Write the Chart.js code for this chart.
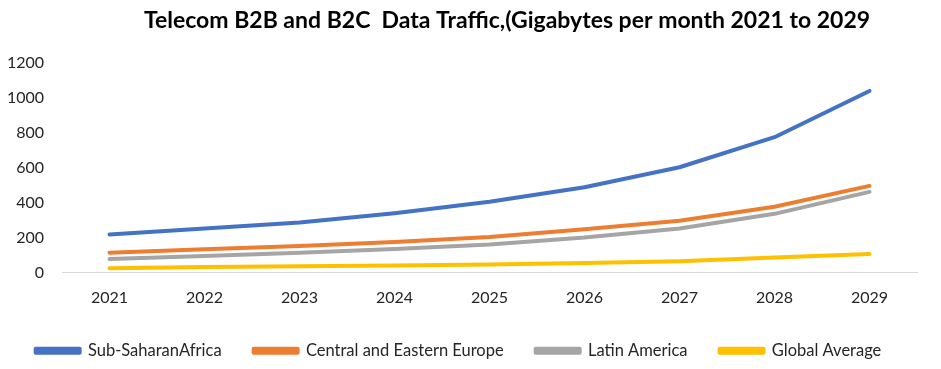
<!DOCTYPE html>
<html>
<head>
<meta charset="utf-8">
<script src="https://cdn.jsdelivr.net/npm/chart.js@4.4.0/dist/chart.umd.min.js"></script>
<style>
  html, body { margin: 0; padding: 0; background: #fff; }
  #wrap { width: 941px; height: 369px; }
</style>
</head>
<body>
<div id="wrap"><canvas id="trafficChart"></canvas></div>
<script>
const years = ['2021', '2022', '2023', '2024', '2025', '2026', '2027', '2028', '2029'];
const subSaharanAfrica = [218, 252, 286, 340, 405, 488, 603, 775, 1040];
const centralEasternEurope = [113, 133, 152, 175, 204, 248, 296, 377, 496];
const latinAmerica = [77, 94, 113, 135, 161, 200, 252, 336, 462];
const globalAverage = [25, 32, 36, 40, 46, 55, 65, 86, 106];
const yTicks = [0, 200, 400, 600, 800, 1000, 1200];
const chartTitle = 'Telecom B2B and B2C  Data Traffic,(Gigabytes per month 2021 to 2029';

const font = 'Lato, "Open Sans", sans-serif';

function line(label, data, color) {
  return {
    label: label,
    data: data,
    borderColor: color,
    backgroundColor: color,
    borderWidth: 4,
    pointRadius: 0,
    tension: 0,
    borderCapStyle: 'round',
    borderJoinStyle: 'round',
  };
}

// the original title sits a bit right of centre, so draw it ourselves
const titlePlugin = {
  id: 'offsetTitle',
  afterDraw(chart) {
    const ctx = chart.ctx;
    ctx.save();
    ctx.font = 'bold 23px ' + font;
    ctx.fillStyle = '#000';
    ctx.textAlign = 'center';
    ctx.textBaseline = 'middle';
    ctx.fillText(chartTitle, 507, 21);
    ctx.restore();
  }
};

new Chart(document.getElementById('trafficChart'), {
  type: 'line',
  data: {
    labels: years,
    datasets: [
      line('Sub-SaharanAfrica', subSaharanAfrica, '#4472C4'),
      line('Central and Eastern Europe', centralEasternEurope, '#ED7D31'),
      line('Latin America', latinAmerica, '#A5A5A5'),
      line('Global Average', globalAverage, '#FFC000'),
    ]
  },
  plugins: [titlePlugin],
  options: {
    responsive: true,
    maintainAspectRatio: false,
    animation: false,
    layout: { padding: { left: 0, right: 24, top: 63, bottom: 0 } },
    plugins: {
      title: { display: false },
      legend: {
        position: 'bottom',
        maxHeight: 60,
        labels: {
          color: '#262626',
          font: { family: font, size: 16.5 },
          boxWidth: 44,
          boxHeight: 4,
          padding: 32,
        }
      },
      tooltip: { enabled: false }
    },
    scales: {
      x: {
        offset: true,
        grid: { display: false, drawTicks: false },
        border: { display: true, color: '#D9D9D9', width: 1 },
        ticks: { color: '#262626', font: { family: font, size: 16 }, padding: 16 },
        afterFit: (scale) => { scale.height = 38; }
      },
      y: {
        min: 0,
        max: 1200,
        afterBuildTicks: (axis) => { axis.ticks = yTicks.map(v => ({ value: v })); },
        afterFit: (scale) => { scale.width = 62; },
        grid: { display: false, drawTicks: false },
        border: { display: false },
        ticks: {
          color: '#262626',
          font: { family: font, size: 16 },
          padding: 18,
          callback: (v) => String(v)
        }
      }
    }
  }
});
</script>
</body>
</html>
